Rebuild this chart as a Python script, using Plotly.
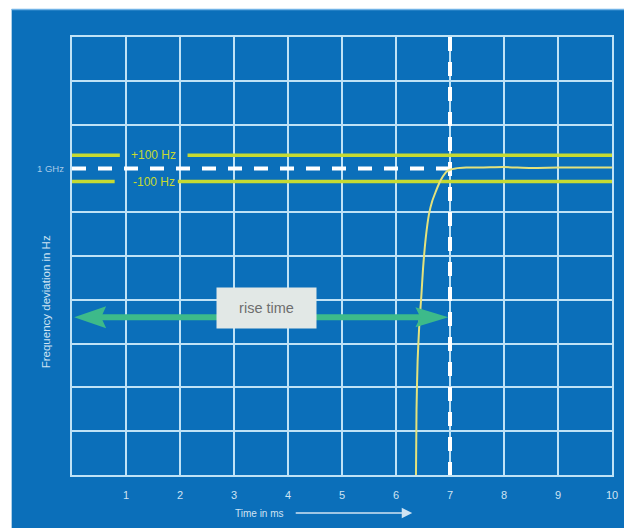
import plotly.graph_objects as go

# ---- data ----
x_ticks = [1, 2, 3, 4, 5, 6, 7, 8, 9, 10]
x_tick_labels = ["1", "2", "3", "4", "5", "6", "7", "8", "9", "10"]
y_grid = [1, 2, 3, 4, 5, 6, 8, 9]
target_freq = 7.0          # "1 GHz" level (axis units)
upper_limit = 7.3          # +100 Hz
lower_limit = 6.7          # -100 Hz
settle_time = 7.0          # end of rise time (ms)
rise_arrow_level = 3.6

curve_x = [6.37, 6.38, 6.40, 6.43, 6.47, 6.50, 6.55, 6.61, 6.67, 6.73, 6.80,
           6.87, 6.93, 7.00, 7.10, 7.30, 7.60, 8.00, 8.50, 9.00, 9.50, 10.0]
curve_y = [0.0, 1.5, 2.6, 3.4, 4.1, 4.7, 5.4, 5.95, 6.25, 6.45, 6.66,
           6.82, 6.92, 6.97, 7.0, 7.02, 7.02, 7.03, 7.01, 7.02, 7.02, 7.02]

# ---- styles ----
BLUE = "#0b6fba"
GRID = "#bfe2f6"
YEL = "#c6da32"
CURVE = "#e4e27c"
GREEN = "#3dba8a"
PALE = "#cfe3f3"
W, H = 624, 531
ML, MR, MT, MB = 72, 6, 37, 56
PW, PH = W - ML - MR, H - MT - MB

def px_x(p):  # pixel -> paper
    return (p - ML) / PW

def px_y(p):
    return (H - MB - p) / PH

fig = go.Figure()

# limit lines with gaps for labels
gap_up = (0.886, 2.14)
gap_lo = (0.79, 1.96)
fig.add_trace(go.Scatter(x=[0, gap_up[0], None, gap_up[1], 10],
                         y=[upper_limit] * 2 + [None] + [upper_limit] * 2,
                         mode="lines", line=dict(color=YEL, width=3.5),
                         hoverinfo="skip", showlegend=False))
fig.add_trace(go.Scatter(x=[0, gap_lo[0], None, gap_lo[1], 10],
                         y=[lower_limit] * 2 + [None] + [lower_limit] * 2,
                         mode="lines", line=dict(color=YEL, width=3.5),
                         hoverinfo="skip", showlegend=False))
# dashed reference lines
fig.add_trace(go.Scatter(x=[0, settle_time], y=[target_freq, target_freq],
                         mode="lines", line=dict(color="white", width=4, dash="14px,12px"),
                         hoverinfo="skip", showlegend=False))
fig.add_trace(go.Scatter(x=[settle_time, settle_time], y=[10, 0],
                         mode="lines", line=dict(color="white", width=4, dash="14px,11px"),
                         hoverinfo="skip", showlegend=False))
# curve
fig.add_trace(go.Scatter(x=curve_x, y=curve_y, mode="lines",
                         line=dict(color=CURVE, width=2, shape="spline", smoothing=0.6),
                         hoverinfo="skip", showlegend=False))

shapes = []
# white frame around the blue card
shapes.append(dict(type="rect", xref="paper", yref="paper",
                   x0=px_x(-5), x1=px_x(11), y0=px_y(H + 5), y1=px_y(-5),
                   fillcolor="white", line=dict(width=0), layer="above"))
shapes.append(dict(type="rect", xref="paper", yref="paper",
                   x0=px_x(-5), x1=px_x(W + 10), y0=px_y(9), y1=px_y(-5),
                   fillcolor="white", line=dict(width=0), layer="above"))
shapes.append(dict(type="rect", xref="paper", yref="paper",
                   x0=px_x(-5), x1=px_x(W + 10), y0=px_y(H + 5), y1=px_y(528),
                   fillcolor="white", line=dict(width=0), layer="above"))
shapes.append(dict(type="line", xref="paper", yref="paper",
                   x0=px_x(11), x1=px_x(W + 10), y0=px_y(9.5), y1=px_y(9.5),
                   line=dict(color="#6fb2e6", width=1.5), layer="above"))
# rise-time arrow
shapes.append(dict(type="line", xref="x", yref="y", x0=0.4, x1=6.5,
                   y0=rise_arrow_level, y1=rise_arrow_level,
                   line=dict(color=GREEN, width=6), layer="above"))
shapes.append(dict(type="path", xref="x", yref="y", xsizemode="pixel", ysizemode="pixel",
                   xanchor=0.04, yanchor=rise_arrow_level,
                   path="M0,0 L32,11 L27,0 L32,-11 Z",
                   fillcolor=GREEN, line=dict(width=0), layer="above"))
shapes.append(dict(type="path", xref="x", yref="y", xsizemode="pixel", ysizemode="pixel",
                   xanchor=settle_time - 0.03, yanchor=rise_arrow_level,
                   path="M0,0 L-33,10 L-28,0 L-33,-10 Z",
                   fillcolor=GREEN, line=dict(width=0), layer="above"))

annotations = []
annotations.append(dict(x=1.51, y=upper_limit, xref="x", yref="y", text="+100 Hz",
                        showarrow=False, font=dict(size=12, color=YEL, family="Liberation Sans")))
annotations.append(dict(x=1.51, y=lower_limit, xref="x", yref="y", text="-100 Hz",
                        showarrow=False, font=dict(size=12, color=YEL, family="Liberation Sans")))
annotations.append(dict(x=px_x(50), y=target_freq, xref="paper", yref="y", text="1 GHz",
                        xanchor="center", yanchor="middle", showarrow=False,
                        font=dict(size=9.5, color="#a9cbe8", family="Liberation Sans")))
annotations.append(dict(x=3.6, y=3.81, xref="x", yref="y", text="rise time",
                        showarrow=False, bgcolor="#e2e8e6", width=95, height=36, borderpad=2,
                        font=dict(size=14.5, color="#6e6e6e", family="Liberation Sans")))
annotations.append(dict(x=px_x(46), y=px_y(302), xref="paper", yref="paper",
                        xanchor="center", yanchor="middle",
                        text="Frequency deviation in Hz", textangle=-90, showarrow=False,
                        font=dict(size=11.5, color=PALE, family="Liberation Sans")))
annotations.append(dict(x=px_x(262), y=px_y(513), xref="paper", yref="paper",
                        xanchor="center", yanchor="middle",
                        text="Time in ms", showarrow=False,
                        font=dict(size=10, color=PALE, family="Liberation Sans")))
annotations.append(dict(x=px_x(416), y=px_y(513), xref="paper", yref="paper",
                        ax=-118, ay=0, axref="pixel", ayref="pixel",
                        text="", showarrow=True, arrowhead=2, arrowsize=1.4, arrowwidth=1.5,
                        arrowcolor=PALE))

fig.update_layout(
    autosize=True,
    margin=dict(l=ML, r=MR, t=MT, b=MB),
    paper_bgcolor=BLUE, plot_bgcolor=BLUE,
    shapes=shapes, annotations=annotations,
    xaxis=dict(range=[0, 10], tickvals=x_ticks, ticktext=x_tick_labels,
               showgrid=True, gridcolor=GRID, gridwidth=2, zeroline=False,
               showline=True, linecolor=GRID, linewidth=2, mirror=True,
               ticks="", ticklabelstandoff=9,
               tickfont=dict(size=11, color=PALE, family="Liberation Sans"),
               fixedrange=True),
    yaxis=dict(range=[0, 10], tickvals=y_grid, showticklabels=False,
               showgrid=True, gridcolor=GRID, gridwidth=2, zeroline=False,
               showline=True, linecolor=GRID, linewidth=2, mirror=True,
               ticks="", fixedrange=True),
)

fig.write_html(
    "out.html", config={"displayModeBar": False, "responsive": True},
    default_width="100vw", default_height="100vh",
    post_script=("document.body.style.margin='0px';"
                 "document.body.style.overflow='hidden';"
                 "document.documentElement.style.overflow='hidden';"
                 "window.dispatchEvent(new Event('resize'));"))
